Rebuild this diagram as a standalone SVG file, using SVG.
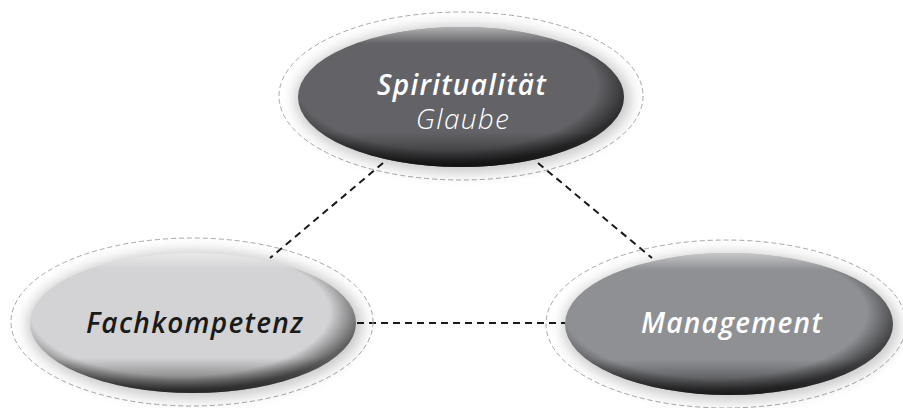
<svg xmlns="http://www.w3.org/2000/svg" width="903" height="408" viewBox="0 0 903 408">
<defs>
<filter id="glow" x="-20%" y="-30%" width="140%" height="160%"><feGaussianBlur stdDeviation="7"/></filter>
<linearGradient id="vshade" x1="0" y1="0" x2="0" y2="1">
<stop offset="0" stop-color="#fff" stop-opacity="0.5"/>
<stop offset="0.12" stop-color="#fff" stop-opacity="0"/>
<stop offset="0.75" stop-color="#000" stop-opacity="0"/>
<stop offset="1" stop-color="#000" stop-opacity="0.6"/>
</linearGradient>
<radialGradient id="rshade" cx="0.46" cy="0.42" r="0.56">
<stop offset="0.82" stop-color="#000" stop-opacity="0"/>
<stop offset="1" stop-color="#000" stop-opacity="0.55"/>
</radialGradient>
<style>
.outer{fill:none;stroke:#a8a8a8;stroke-width:1;stroke-dasharray:5 3}
.halo{fill:#000;opacity:0.22;filter:url(#glow)}
.vs{fill:url(#vshade)}
.rs{fill:url(#rshade)}
.lbl{font-family:"Open Sans","Noto Sans",sans-serif;font-style:italic;font-weight:600;font-size:28px;letter-spacing:1.3px;text-anchor:middle}
.sub{font-weight:300}
.conn{stroke:#1a1a1a;stroke-width:2;stroke-dasharray:7 5;fill:none}
</style>
</defs>
<rect width="903" height="408" fill="#fff"/>
<g id="connectors">
<line class="conn" x1="383" y1="163" x2="270" y2="258"/>
<line class="conn" x1="538" y1="163" x2="652" y2="258"/>
<line class="conn" x1="357" y1="323" x2="565" y2="323"/>
</g>
<g id="spiritualitaet">
<ellipse class="outer" cx="461" cy="96" rx="182" ry="84"/>
<ellipse class="halo" cx="463" cy="99" rx="168" ry="74"/>
<ellipse cx="461" cy="97" rx="163" ry="70" fill="#636367"/>
<ellipse class="rs" cx="461" cy="97" rx="163" ry="70"/>
<ellipse class="vs" cx="461" cy="97" rx="163" ry="70"/>
<text class="lbl" x="462" y="95" fill="#fff">Spiritualität</text>
<text class="lbl sub" x="463" y="129" fill="#fff">Glaube</text>
</g>
<g id="fachkompetenz">
<ellipse class="outer" cx="192" cy="322" rx="181" ry="84"/>
<ellipse class="halo" cx="195" cy="325" rx="168" ry="74"/>
<ellipse cx="193" cy="323" rx="163" ry="70" fill="#d3d3d5"/>
<ellipse class="rs" cx="193" cy="323" rx="163" ry="70"/>
<ellipse class="vs" cx="193" cy="323" rx="163" ry="70"/>
<text class="lbl" x="195" y="333" fill="#1a1a1a">Fachkompetenz</text>
</g>
<g id="management">
<ellipse class="outer" cx="726" cy="324" rx="180" ry="84"/>
<ellipse class="halo" cx="731" cy="327" rx="168" ry="74"/>
<ellipse cx="729" cy="324" rx="164" ry="71" fill="#8f9094"/>
<ellipse class="rs" cx="729" cy="324" rx="164" ry="71"/>
<ellipse class="vs" cx="729" cy="324" rx="164" ry="71"/>
<text class="lbl" x="732" y="333" fill="#fff">Management</text>
</g>
</svg>
